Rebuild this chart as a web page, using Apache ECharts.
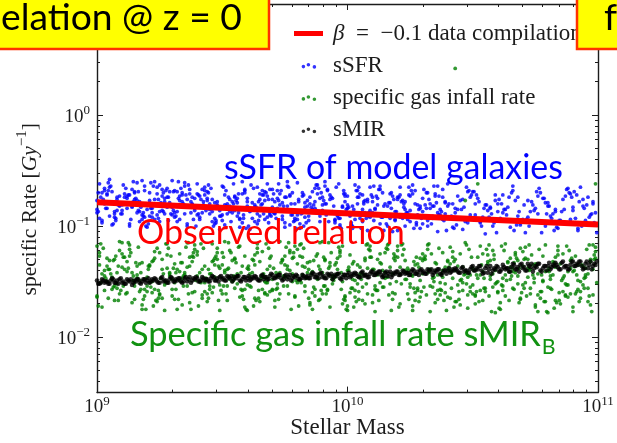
<!DOCTYPE html>
<html>
<head>
<meta charset="utf-8">
<title>Specific rates vs stellar mass</title>
<script src="https://cdn.jsdelivr.net/npm/echarts@6.0.0/dist/echarts.min.js"></script>
<style>
  html, body { margin: 0; padding: 0; background: #ffffff; }
  #chart { width: 617px; height: 443px; }
</style>
</head>
<body>
<div id="chart"></div>
<script>
// Model galaxies at z = 0, each point is [log10 M*, log10 rate (Gyr^-1)]

// specific star formation rate
const sSFRPoints = [
  [9.00,-.77],[9.07,-.87],[9.03,-.68],[9.09,-.82],[9.01,-.62],[9.05,-.91],[9.08,-.74],[9.02,-.95],[9.06,-.79],[9.04,-.71],[9.00,-.85],[9.03,-.66],[9.07,-.89],[9.09,-.81],[9.05,-.58],[9.01,-.93],[9.08,-.76],[9.06,-.99],[9.02,-.70],[9.04,-.84],[9.09,-.73],[9.00,-.88],[9.05,-.65],[9.03,-.80],[9.07,-.92],[9.01,-.78],[9.06,-.69],[9.08,-.86],[9.02,-.97],[9.04,-.72],
  [9.14,-.83],[9.11,-.71],[9.18,-.94],[9.12,-.75],[9.16,-.88],[9.19,-.64],[9.10,-.81],[9.15,-.69],[9.13,-1.00],[9.17,-.78],[9.18,-.90],[9.12,-.73],[9.14,-.67],[9.10,-.86],[9.16,-.61],[9.19,-.92],[9.11,-.80],[9.15,-.76],[9.17,-.96],[9.13,-.72],[9.12,-.84],[9.18,-.59],[9.10,-.89],[9.16,-.77],[9.14,-.82],[9.19,-.68],[9.13,-.98],[9.11,-.74],[9.17,-.87],[9.15,-.70],
  [9.26,-.73],[9.22,-.92],[9.29,-.79],[9.24,-.65],[9.20,-.85],[9.27,-.89],[9.23,-.60],[9.28,-.83],[9.21,-.70],[9.25,-.96],[9.23,-.76],[9.29,-.81],[9.26,-.67],[9.22,-.88],[9.28,-.74],[9.20,-1.01],[9.24,-.71],[9.27,-.78],[9.21,-.91],[9.25,-.63],[9.26,-.86],[9.20,-.80],[9.29,-.69],[9.23,-.94],[9.27,-.75],[9.22,-.84],[9.28,-.66],[9.24,-.90],[9.21,-.77],[9.25,-.87],
  [9.30,-.83],[9.37,-.71],[9.33,-.94],[9.39,-.75],[9.31,-.88],[9.35,-.64],[9.38,-.81],[9.32,-.69],[9.36,-1.00],[9.34,-.78],[9.30,-.90],[9.33,-.73],[9.37,-.67],[9.39,-.86],[9.35,-.61],[9.31,-.92],[9.38,-.80],[9.36,-.76],[9.32,-.96],[9.34,-.72],[9.39,-.84],[9.30,-.59],[9.35,-.89],[9.33,-.77],[9.37,-.82],[9.31,-.68],[9.36,-.98],[9.38,-.74],[9.32,-.87],[9.34,-.70],
  [9.44,-.75],[9.41,-.94],[9.48,-.81],[9.42,-.67],[9.46,-.87],[9.49,-.91],[9.40,-.62],[9.45,-.85],[9.43,-.72],[9.47,-.98],[9.48,-.78],[9.42,-.83],[9.44,-.69],[9.40,-.90],[9.46,-.76],[9.49,-1.03],[9.41,-.73],[9.45,-.80],[9.47,-.93],[9.43,-.65],[9.42,-.88],[9.48,-.82],[9.40,-.71],[9.46,-.96],[9.44,-.77],[9.49,-.86],[9.43,-.68],[9.41,-.92],[9.47,-.79],[9.45,-.89],
  [9.56,-.79],[9.52,-.89],[9.59,-.70],[9.54,-.84],[9.50,-.64],[9.57,-.93],[9.53,-.76],[9.58,-.97],[9.51,-.81],[9.55,-.73],[9.53,-.87],[9.59,-.68],[9.56,-.91],[9.52,-.83],[9.58,-.60],[9.50,-.95],[9.54,-.78],[9.57,-1.01],[9.51,-.72],[9.55,-.86],[9.56,-.75],[9.50,-.90],[9.59,-.67],[9.53,-.82],[9.57,-.94],[9.52,-.80],[9.58,-.71],[9.54,-.88],[9.51,-.99],[9.55,-.74],
  [9.60,-.75],[9.67,-.94],[9.63,-.81],[9.69,-.67],[9.61,-.87],[9.65,-.91],[9.68,-.62],[9.62,-.85],[9.66,-.72],[9.64,-.98],[9.60,-.78],[9.63,-.83],[9.67,-.69],[9.69,-.90],[9.65,-.76],[9.61,-1.03],[9.68,-.73],[9.66,-.80],[9.62,-.93],[9.64,-.65],[9.69,-.88],[9.60,-.82],[9.65,-.71],[9.63,-.96],[9.67,-.77],[9.61,-.86],[9.66,-.68],[9.68,-.92],[9.62,-.79],[9.64,-.89],
  [9.74,-.79],[9.71,-.89],[9.78,-.70],[9.72,-.84],[9.76,-.64],[9.79,-.93],[9.70,-.76],[9.75,-.97],[9.73,-.81],[9.77,-.73],[9.78,-.87],[9.72,-.68],[9.74,-.91],[9.70,-.83],[9.76,-.60],[9.79,-.95],[9.71,-.78],[9.75,-1.01],[9.77,-.72],[9.73,-.86],[9.72,-.75],[9.78,-.90],[9.70,-.67],[9.76,-.82],[9.74,-.94],[9.79,-.80],[9.73,-.71],[9.71,-.88],[9.77,-.99],[9.75,-.74],
  [9.86,-.85],[9.82,-.73],[9.89,-.96],[9.84,-.77],[9.80,-.90],[9.87,-.66],[9.83,-.83],[9.88,-.71],[9.81,-1.02],[9.85,-.80],[9.83,-.92],[9.89,-.75],[9.86,-.69],[9.82,-.88],[9.88,-.63],[9.80,-.94],[9.84,-.82],[9.87,-.78],[9.81,-.98],[9.85,-.74],[9.86,-.86],[9.80,-.61],[9.89,-.91],[9.83,-.79],[9.87,-.84],[9.82,-.70],
  [9.90,-.74],[9.97,-.99],[9.93,-.88],[9.99,-.71],[9.91,-.80],[9.95,-.94],[9.98,-.82],[9.92,-.67],[9.96,-.90],[9.94,-.75],[9.90,-.86],[9.93,-.72],[9.97,-1.01],[9.99,-.78],[9.95,-.95],[9.91,-.60],[9.98,-.83],[9.96,-.91],[9.92,-.68],[9.94,-.87],[9.99,-.73],[9.90,-.81],[9.95,-.97],[9.93,-.76],[9.97,-.93],[9.91,-.64],
  [10.04,-.74],[10.01,-.91],[10.08,-.78],[10.02,-1.02],[10.06,-.72],[10.09,-.86],[10.00,-.81],[10.05,-.93],[10.03,-.63],[10.07,-.88],[10.08,-.76],[10.02,-1.00],[10.04,-.80],[10.00,-.84],[10.06,-.96],[10.09,-.65],[10.01,-.90],[10.05,-.71],[10.07,-.77],[10.03,-.94],[10.02,-.82],[10.08,-1.04],[10.00,-.73],[10.06,-.85],[10.04,-.68],[10.09,-.92],
  [10.16,-.91],[10.12,-.81],[10.19,-.94],[10.14,-.70],[10.10,-.88],[10.17,-.79],[10.13,-.98],[10.18,-.73],[10.11,-.84],[10.15,-.90],[10.13,-.67],[10.19,-.95],[10.16,-.82],[10.12,-.75],[10.18,-1.05],[10.10,-.78],[10.14,-.92],[10.17,-.71],[10.11,-.85],[10.15,-.80],[10.16,-1.00],[10.10,-.74],[10.19,-.87],[10.13,-.64],[10.17,-.93],[10.12,-.89],
  [10.20,-.74],[10.27,-.91],[10.23,-.78],[10.29,-1.02],[10.21,-.72],[10.25,-.86],[10.28,-.81],[10.22,-.93],[10.26,-.63],[10.24,-.88],[10.20,-.76],[10.23,-1.00],[10.27,-.80],[10.29,-.84],[10.25,-.96],[10.21,-.65],[10.28,-.90],[10.26,-.71],[10.22,-.77],[10.24,-.94],[10.29,-.82],[10.20,-1.04],[10.25,-.73],[10.23,-.85],[10.27,-.68],[10.21,-.92],
  [10.34,-.91],[10.31,-.81],[10.38,-.94],[10.32,-.70],[10.36,-.88],[10.39,-.79],[10.30,-.98],[10.35,-.73],[10.33,-.84],[10.37,-.90],[10.38,-.67],[10.32,-.95],[10.34,-.82],[10.30,-.75],[10.36,-1.05],[10.39,-.78],[10.31,-.92],[10.35,-.71],[10.37,-.85],[10.33,-.80],[10.32,-1.00],[10.38,-.74],[10.30,-.87],[10.36,-.64],[10.34,-.93],[10.39,-.89],
  [10.46,-.76],[10.42,-1.01],[10.49,-.90],[10.44,-.73],[10.40,-.82],[10.47,-.96],[10.43,-.84],[10.48,-.69],[10.41,-.92],[10.45,-.77],[10.43,-.88],[10.49,-.74],[10.46,-1.03],[10.42,-.80],[10.48,-.97],[10.40,-.62],[10.44,-.85],[10.47,-.93],
  [10.50,-.93],[10.57,-.83],[10.53,-.96],[10.59,-.72],[10.51,-.90],[10.55,-.81],[10.58,-1.00],[10.52,-.75],[10.56,-.86],[10.54,-.92],[10.50,-.69],[10.53,-.97],[10.57,-.84],[10.59,-.77],[10.55,-1.07],[10.51,-.80],
  [10.64,-.83],[10.61,-.93],[10.68,-.74],[10.62,-.88],[10.66,-.68],[10.69,-.97],[10.60,-.80],[10.65,-1.01],[10.63,-.85],[10.67,-.77],[10.68,-.91],[10.62,-.72],[10.64,-.95],[10.60,-.87],[10.66,-.64],[10.69,-.99],
  [10.76,-.89],[10.72,-.77],[10.79,-1.00],[10.74,-.81],[10.70,-.94],[10.77,-.70],[10.73,-.87],[10.78,-.75],[10.71,-1.06],[10.75,-.84],[10.73,-.96],[10.79,-.79],[10.76,-.73],[10.72,-.92],
  [10.80,-.79],[10.87,-.98],[10.83,-.85],[10.89,-.71],[10.81,-.91],[10.85,-.95],[10.88,-.66],[10.82,-.89],[10.86,-.76],[10.84,-1.02],[10.80,-.82],[10.83,-.87],[10.87,-.73],[10.89,-.94],
  [10.94,-.76],[10.91,-.93],[10.98,-.80],[10.92,-1.04],[10.96,-.74],[10.99,-.88],[10.90,-.83],[10.95,-.95],[10.93,-.65],[10.97,-.90],[10.98,-.78],[10.92,-1.02],[10.94,-.82],[10.90,-.86],
  [9.005,-.70],[9.035,-.84],[9.075,-.93],[9.015,-.74],[9.055,-.64],[9.095,-.89],[9.025,-.79],[9.065,-.98],[9.045,-.68],[9.085,-.81],[9.005,-.87],[9.045,-.61],[9.075,-.95],[9.025,-.76],
  [9.165,-.86],[9.115,-.66],[9.145,-.78],[9.185,-.91],[9.125,-.72],[9.195,-1.00],[9.155,-.75],[9.105,-.63],[9.175,-.83],[9.135,-.94],[9.165,-.69],[9.115,-.80],[9.185,-.88],[9.145,-.60],
  [9.265,-.70],[9.215,-.84],[9.245,-.93],[9.285,-.74],[9.225,-.64],[9.295,-.89],[9.255,-.79],[9.205,-.98],[9.275,-.68],[9.235,-.81],[9.265,-.87],[9.215,-.61],[9.285,-.95],[9.245,-.76],
  [9.305,-.86],[9.335,-.66],[9.375,-.78],[9.315,-.91],[9.355,-.72],[9.395,-1.00],[9.325,-.75],[9.365,-.63],[9.345,-.83],[9.385,-.94],[9.305,-.69],[9.345,-.80],[9.375,-.88],[9.325,-.60],
  [9.405,-.72],[9.435,-.86],[9.475,-.95],[9.415,-.76],[9.455,-.66],[9.495,-.91],[9.425,-.81],[9.465,-1.00],[9.445,-.70],[9.485,-.83],[9.405,-.89],[9.445,-.63],[9.475,-.97],[9.425,-.78],
  [9.565,-.88],[9.515,-.68],[9.545,-.80],[9.585,-.93],[9.525,-.74],[9.595,-1.02],[9.555,-.77],[9.505,-.65],[9.575,-.85],[9.535,-.96],[9.565,-.71],[9.515,-.82],[9.585,-.90],[9.545,-.62],
  [9.665,-.72],[9.615,-.86],[9.645,-.95],[9.685,-.76],[9.625,-.66],[9.695,-.91],[9.655,-.81],[9.605,-1.00],[9.675,-.70],[9.635,-.83],[9.665,-.89],[9.615,-.63],[9.685,-.97],[9.645,-.78],
  [9.705,-.88],[9.735,-.68],[9.775,-.80],[9.715,-.93],[9.755,-.74],[9.795,-1.02],[9.725,-.77],[9.765,-.65],[9.745,-.85],[9.785,-.96],[9.705,-.71],[9.745,-.82],[9.775,-.90],[9.725,-.62],
  [9.805,-.78],[9.835,-.97],[9.875,-.63],[9.815,-.89],[9.855,-.83],[9.895,-.70],[9.825,-1.00],[9.865,-.81],[9.845,-.91],[9.885,-.66],[9.805,-.76],[9.845,-.95],[9.875,-.86],[9.825,-.72],
  [9.965,-.62],[9.915,-.90],[9.945,-.82],[9.985,-.71],[9.925,-.96],[9.995,-.85],[9.955,-.65],[9.905,-.77],[9.975,-1.02],[9.935,-.74],[9.965,-.93],[9.915,-.80],[9.985,-.68],[9.945,-.88],
  [10.065,-.80],[10.015,-.99],[10.045,-.65],[10.085,-.91],[10.025,-.85],[10.095,-.72],[10.055,-1.02],[10.005,-.83],[10.075,-.93],[10.035,-.68],[10.065,-.78],[10.015,-.97],[10.085,-.88],[10.045,-.74],
  [10.105,-.64],[10.135,-.92],[10.175,-.84],[10.115,-.73],[10.155,-.98],[10.195,-.87],[10.125,-.67],[10.165,-.79],[10.145,-1.04],[10.185,-.76],[10.105,-.95],[10.145,-.82],[10.175,-.70],[10.125,-.90],
  [10.205,-.74],[10.235,-.88],[10.275,-.97],[10.215,-.78],[10.255,-.68],[10.295,-.93],[10.225,-.83],[10.265,-1.02],[10.245,-.72],[10.285,-.85],[10.205,-.91],[10.245,-.65],[10.275,-.99],[10.225,-.80],
  [10.365,-.90],[10.315,-.70],[10.345,-.82],[10.385,-.95],[10.325,-.76],[10.395,-1.04],[10.355,-.79],[10.305,-.67],[10.375,-.87],[10.335,-.98],[10.365,-.73],[10.315,-.84],[10.385,-.92],[10.345,-.64],
  [10.405,-.80],[10.435,-.99],[10.475,-.65],[10.415,-.91],[10.455,-.85],[10.495,-.72],[10.425,-1.02],[10.465,-.83],[10.445,-.93],[10.485,-.68],
  [10.565,-.92],[10.515,-.72],[10.545,-.84],[10.585,-.97],[10.525,-.78],[10.595,-1.06],[10.555,-.81],[10.505,-.69],[10.575,-.89],[10.535,-1.00],
  [10.605,-.76],[10.635,-.90],[10.675,-.99],[10.615,-.80],[10.655,-.70],[10.695,-.95],[10.625,-.85],[10.665,-1.04],[10.645,-.74],[10.685,-.87],
  [10.765,-.66],[10.715,-.94],[10.745,-.86],[10.785,-.75],[10.725,-1.00],[10.795,-.89],[10.755,-.69],[10.705,-.81],[10.775,-1.06],[10.735,-.78],
  [10.805,-.82],[10.835,-1.01],[10.875,-.67],[10.815,-.93],[10.855,-.87],[10.895,-.74],[10.825,-1.04],[10.865,-.85],[10.845,-.95],[10.885,-.70],
  [10.965,-.92],[10.915,-.72],[10.945,-.84],[10.985,-.97],[10.925,-.78],[10.995,-1.06],[10.955,-.81],[10.905,-.69],[10.975,-.89],[10.935,-1.00]
];

// specific gas infall rate
const infallPoints = [
  [9.03,-1.40],[9.08,-1.56],[9.01,-1.27],[9.06,-1.48],[9.00,-1.18],[9.09,-1.61],[9.04,-1.36],[9.07,-1.67],[9.02,-1.43],[9.05,-1.31],[9.08,-1.52],[9.01,-1.24],[9.03,-1.58],[9.06,-1.46],[9.09,-1.14],[9.00,-1.64],[9.05,-1.39],[9.02,-1.73],[9.07,-1.30],[9.04,-1.50],[9.01,-1.35],[9.06,-1.57],[9.09,-1.22],[9.03,-1.45],[9.00,-1.63],[9.08,-1.42],[9.04,-1.29],[9.07,-1.54],
  [9.17,-1.49],[9.12,-1.32],[9.15,-1.66],[9.10,-1.37],[9.19,-1.57],[9.13,-1.21],[9.16,-1.47],[9.11,-1.28],[9.18,-1.75],[9.14,-1.42],[9.12,-1.60],[9.17,-1.34],[9.10,-1.25],[9.15,-1.54],[9.13,-1.17],[9.19,-1.63],[9.16,-1.44],[9.11,-1.39],[9.14,-1.69],[9.18,-1.33],[9.15,-1.51],[9.10,-1.15],[9.17,-1.59],[9.12,-1.41],[9.19,-1.48],[9.13,-1.27],[9.18,-1.71],[9.16,-1.36],
  [9.21,-1.35],[9.25,-1.62],[9.29,-1.43],[9.23,-1.23],[9.27,-1.53],[9.20,-1.59],[9.28,-1.16],[9.22,-1.50],[9.26,-1.30],[9.24,-1.68],[9.26,-1.39],[9.20,-1.46],[9.28,-1.26],[9.23,-1.57],[9.21,-1.36],[9.27,-1.76],[9.22,-1.32],[9.29,-1.42],[9.25,-1.61],[9.24,-1.20],[9.20,-1.54],[9.29,-1.45],[9.23,-1.29],[9.26,-1.65],[9.28,-1.38],[9.21,-1.51],[9.25,-1.24],[9.22,-1.60],
  [9.33,-1.49],[9.38,-1.32],[9.31,-1.66],[9.36,-1.37],[9.30,-1.57],[9.39,-1.21],[9.34,-1.47],[9.37,-1.28],[9.32,-1.75],[9.35,-1.42],[9.38,-1.60],[9.31,-1.34],[9.33,-1.25],[9.36,-1.54],[9.39,-1.17],[9.30,-1.63],[9.35,-1.44],[9.32,-1.39],[9.37,-1.69],[9.34,-1.33],[9.31,-1.51],[9.36,-1.15],[9.39,-1.59],[9.33,-1.41],[9.30,-1.48],[9.38,-1.27],[9.34,-1.71],[9.37,-1.36],
  [9.47,-1.35],[9.42,-1.62],[9.45,-1.43],[9.40,-1.23],[9.49,-1.53],[9.43,-1.59],[9.46,-1.16],[9.41,-1.50],[9.48,-1.30],[9.44,-1.68],[9.42,-1.39],[9.47,-1.46],[9.40,-1.26],[9.45,-1.57],[9.43,-1.36],[9.49,-1.76],[9.46,-1.32],[9.41,-1.42],[9.44,-1.61],[9.48,-1.20],[9.45,-1.54],[9.40,-1.45],[9.47,-1.29],[9.42,-1.65],[9.49,-1.38],[9.43,-1.51],[9.48,-1.24],[9.46,-1.60],
  [9.51,-1.40],[9.55,-1.56],[9.59,-1.27],[9.53,-1.48],[9.57,-1.18],[9.50,-1.61],[9.58,-1.36],[9.52,-1.67],[9.56,-1.43],[9.54,-1.31],[9.56,-1.52],[9.50,-1.24],[9.58,-1.58],[9.53,-1.46],[9.51,-1.14],[9.57,-1.64],[9.52,-1.39],[9.59,-1.73],[9.55,-1.30],[9.54,-1.50],[9.50,-1.35],[9.59,-1.57],[9.53,-1.22],[9.56,-1.45],[9.58,-1.63],[9.51,-1.42],[9.55,-1.29],[9.52,-1.54],
  [9.63,-1.35],[9.68,-1.62],[9.61,-1.43],[9.66,-1.23],[9.60,-1.53],[9.69,-1.59],[9.64,-1.16],[9.67,-1.50],[9.62,-1.30],[9.65,-1.68],[9.68,-1.39],[9.61,-1.46],[9.63,-1.26],[9.66,-1.57],[9.69,-1.36],[9.60,-1.76],[9.65,-1.32],[9.62,-1.42],[9.67,-1.61],[9.64,-1.20],[9.61,-1.54],[9.66,-1.45],[9.69,-1.29],[9.63,-1.65],[9.60,-1.38],[9.68,-1.51],[9.64,-1.24],[9.67,-1.60],
  [9.77,-1.40],[9.72,-1.56],[9.75,-1.27],[9.70,-1.48],[9.79,-1.18],[9.73,-1.61],[9.76,-1.36],[9.71,-1.67],[9.78,-1.43],[9.74,-1.31],[9.72,-1.52],[9.77,-1.24],[9.70,-1.58],[9.75,-1.46],[9.73,-1.14],[9.79,-1.64],[9.76,-1.39],[9.71,-1.73],[9.74,-1.30],[9.78,-1.50],[9.75,-1.35],[9.70,-1.57],[9.77,-1.22],[9.72,-1.45],[9.79,-1.63],[9.73,-1.42],[9.78,-1.29],[9.76,-1.54],
  [9.81,-1.49],[9.85,-1.32],[9.89,-1.66],[9.83,-1.37],[9.87,-1.57],[9.80,-1.21],[9.88,-1.47],[9.82,-1.28],[9.86,-1.75],[9.84,-1.42],[9.86,-1.60],[9.80,-1.34],[9.88,-1.25],[9.83,-1.54],[9.81,-1.17],[9.87,-1.63],[9.82,-1.44],[9.89,-1.39],[9.85,-1.69],[9.84,-1.33],[9.80,-1.51],[9.89,-1.15],[9.83,-1.59],[9.86,-1.41],[9.88,-1.48],[9.81,-1.27],[9.85,-1.71],[9.82,-1.36],
  [9.93,-1.33],[9.98,-1.70],[9.91,-1.54],[9.96,-1.29],[9.90,-1.42],[9.99,-1.63],[9.94,-1.45],[9.97,-1.22],[9.92,-1.57],[9.95,-1.35],[9.98,-1.50],[9.91,-1.30],[9.93,-1.73],[9.96,-1.39],[9.99,-1.64],[9.90,-1.14],[9.95,-1.46],[9.92,-1.58],[9.97,-1.24],[9.94,-1.52],[9.91,-1.31],[9.96,-1.43],[9.99,-1.67],[9.93,-1.36],[9.90,-1.61],[9.98,-1.18],[9.94,-1.48],[9.97,-1.27],
  [10.07,-1.31],[10.02,-1.56],[10.05,-1.37],[10.00,-1.72],[10.09,-1.28],[10.03,-1.49],[10.06,-1.42],[10.01,-1.60],[10.08,-1.16],[10.04,-1.52],[10.02,-1.34],[10.07,-1.70],[10.00,-1.40],[10.05,-1.45],[10.03,-1.64],[10.09,-1.18],[10.06,-1.55],[10.01,-1.26],[10.04,-1.35],[10.08,-1.61],[10.05,-1.43],[10.00,-1.76],[10.07,-1.29],[10.02,-1.48],[10.09,-1.22],[10.03,-1.58],[10.08,-1.38],[10.06,-1.67],
  [10.11,-1.57],[10.15,-1.42],[10.19,-1.61],[10.13,-1.25],[10.17,-1.52],[10.10,-1.39],[10.18,-1.66],[10.12,-1.30],[10.16,-1.46],[10.14,-1.55],[10.16,-1.21],[10.10,-1.62],[10.18,-1.43],[10.13,-1.33],[10.11,-1.77],[10.17,-1.37],[10.12,-1.58],[10.19,-1.27],[10.15,-1.47],[10.14,-1.40],[10.10,-1.69],[10.19,-1.31],[10.13,-1.51],[10.16,-1.17],[10.18,-1.60],[10.11,-1.54],[10.15,-1.24],[10.12,-1.44],
  [10.23,-1.31],[10.28,-1.56],[10.21,-1.37],[10.26,-1.72],[10.20,-1.28],[10.29,-1.49],[10.24,-1.42],[10.27,-1.60],[10.22,-1.16],[10.25,-1.52],[10.28,-1.34],[10.21,-1.70],[10.23,-1.40],[10.26,-1.45],[10.29,-1.64],[10.20,-1.18],[10.25,-1.55],[10.22,-1.26],[10.27,-1.35],[10.24,-1.61],[10.21,-1.43],[10.26,-1.76],[10.29,-1.29],[10.23,-1.48],[10.20,-1.22],[10.28,-1.58],[10.24,-1.38],[10.27,-1.67],
  [10.37,-1.57],[10.32,-1.42],[10.35,-1.61],[10.30,-1.25],[10.39,-1.52],[10.33,-1.39],[10.36,-1.66],[10.31,-1.30],[10.38,-1.46],[10.34,-1.55],[10.32,-1.21],[10.37,-1.62],[10.30,-1.43],[10.35,-1.33],[10.33,-1.77],[10.39,-1.37],[10.36,-1.58],[10.31,-1.27],[10.34,-1.47],[10.38,-1.40],[10.35,-1.69],[10.30,-1.31],[10.37,-1.51],[10.32,-1.17],[10.39,-1.60],[10.33,-1.54],[10.38,-1.24],[10.36,-1.44],
  [10.41,-1.34],[10.45,-1.71],[10.49,-1.55],[10.43,-1.30],[10.47,-1.43],[10.40,-1.64],[10.48,-1.46],[10.42,-1.23],[10.46,-1.58],[10.44,-1.36],[10.46,-1.51],[10.40,-1.31],[10.48,-1.74],[10.43,-1.40],[10.41,-1.65],[10.47,-1.15],[10.42,-1.47],[10.49,-1.59],[10.45,-1.25],[10.44,-1.53],[10.40,-1.32],[10.49,-1.44],[10.43,-1.68],[10.46,-1.37],[10.48,-1.62],[10.41,-1.19],[10.45,-1.49],[10.42,-1.28],
  [10.53,-1.58],[10.58,-1.43],[10.51,-1.62],[10.56,-1.26],[10.50,-1.53],[10.59,-1.40],[10.54,-1.67],[10.57,-1.31],[10.52,-1.47],[10.55,-1.56],[10.58,-1.22],[10.51,-1.63],[10.53,-1.44],[10.56,-1.34],[10.59,-1.78],[10.50,-1.38],[10.55,-1.59],[10.52,-1.28],[10.57,-1.48],[10.54,-1.41],[10.51,-1.70],[10.56,-1.32],[10.59,-1.52],[10.53,-1.18],[10.50,-1.61],[10.58,-1.55],[10.54,-1.25],[10.57,-1.45],
  [10.67,-1.42],[10.62,-1.58],[10.65,-1.29],[10.60,-1.50],[10.69,-1.20],[10.63,-1.63],[10.66,-1.38],[10.61,-1.69],[10.68,-1.45],[10.64,-1.33],[10.62,-1.54],[10.67,-1.26],[10.60,-1.60],[10.65,-1.48],[10.63,-1.16],[10.69,-1.66],[10.66,-1.41],[10.61,-1.75],[10.64,-1.32],[10.68,-1.52],[10.65,-1.37],[10.60,-1.59],[10.67,-1.24],[10.62,-1.47],[10.69,-1.65],[10.63,-1.44],[10.68,-1.31],[10.66,-1.56],
  [10.71,-1.51],[10.75,-1.34],[10.79,-1.68],[10.73,-1.39],[10.77,-1.59],[10.70,-1.23],[10.78,-1.49],[10.72,-1.30],[10.76,-1.77],[10.74,-1.44],[10.76,-1.62],[10.70,-1.36],[10.78,-1.27],[10.73,-1.56],[10.71,-1.19],[10.77,-1.65],[10.72,-1.46],[10.79,-1.41],[10.75,-1.71],[10.74,-1.35],[10.70,-1.53],[10.79,-1.17],[10.73,-1.61],[10.76,-1.43],[10.78,-1.50],[10.71,-1.29],[10.75,-1.73],[10.72,-1.38],
  [10.83,-1.37],[10.88,-1.64],[10.81,-1.45],[10.86,-1.25],[10.80,-1.55],[10.89,-1.61],[10.84,-1.18],[10.87,-1.52],[10.82,-1.32],[10.85,-1.70],[10.88,-1.41],[10.81,-1.48],[10.83,-1.28],[10.86,-1.59],[10.89,-1.38],[10.80,-1.78],[10.85,-1.34],[10.82,-1.44],[10.87,-1.63],[10.84,-1.22],[10.81,-1.56],[10.86,-1.47],[10.89,-1.31],[10.83,-1.67],[10.80,-1.40],[10.88,-1.53],[10.84,-1.26],[10.87,-1.62],
  [10.97,-1.32],[10.92,-1.57],[10.95,-1.38],[10.90,-1.73],[10.99,-1.29],[10.93,-1.50],[10.96,-1.43],[10.91,-1.61],[10.98,-1.17],[10.94,-1.53],[10.92,-1.35],[10.97,-1.71],[10.90,-1.41],[10.95,-1.46],[10.93,-1.65],[10.99,-1.19],[10.96,-1.56],[10.91,-1.27],[10.94,-1.36],[10.98,-1.62],[10.95,-1.44],[10.90,-1.77],[10.97,-1.30],[10.92,-1.49],[10.99,-1.23],[10.93,-1.59],[10.98,-1.39],[10.96,-1.68],
  [9.065,-1.31],[9.015,-1.51],[9.045,-1.65],[9.085,-1.36],[9.025,-1.20],[9.095,-1.58],[9.055,-1.43],[9.005,-1.72],[9.075,-1.27],[9.035,-1.47],[9.065,-1.55],[9.015,-1.16],[9.085,-1.67],[9.045,-1.39],
  [9.105,-1.54],[9.135,-1.24],[9.175,-1.42],[9.115,-1.61],[9.155,-1.33],[9.195,-1.75],[9.125,-1.38],[9.165,-1.19],[9.145,-1.49],[9.185,-1.66],[9.105,-1.28],[9.145,-1.45],[9.175,-1.57],[9.125,-1.15],
  [9.205,-1.39],[9.235,-1.67],[9.275,-1.16],[9.215,-1.55],[9.255,-1.47],[9.295,-1.27],[9.225,-1.72],[9.265,-1.43],[9.245,-1.58],[9.285,-1.20],[9.205,-1.36],[9.245,-1.65],[9.275,-1.51],[9.225,-1.31],
  [9.365,-1.15],[9.315,-1.57],[9.345,-1.45],[9.385,-1.28],[9.325,-1.66],[9.395,-1.49],[9.355,-1.19],[9.305,-1.38],[9.375,-1.75],[9.335,-1.33],[9.365,-1.61],[9.315,-1.42],[9.385,-1.24],[9.345,-1.54],
  [9.465,-1.31],[9.415,-1.51],[9.445,-1.65],[9.485,-1.36],[9.425,-1.20],[9.495,-1.58],[9.455,-1.43],[9.405,-1.72],[9.475,-1.27],[9.435,-1.47],[9.465,-1.55],[9.415,-1.16],[9.485,-1.67],[9.445,-1.39],
  [9.505,-1.54],[9.535,-1.24],[9.575,-1.42],[9.515,-1.61],[9.555,-1.33],[9.595,-1.75],[9.525,-1.38],[9.565,-1.19],[9.545,-1.49],[9.585,-1.66],[9.505,-1.28],[9.545,-1.45],[9.575,-1.57],[9.525,-1.15],
  [9.605,-1.39],[9.635,-1.67],[9.675,-1.16],[9.615,-1.55],[9.655,-1.47],[9.695,-1.27],[9.625,-1.72],[9.665,-1.43],[9.645,-1.58],[9.685,-1.20],[9.605,-1.36],[9.645,-1.65],[9.675,-1.51],[9.625,-1.31],
  [9.765,-1.15],[9.715,-1.57],[9.745,-1.45],[9.785,-1.28],[9.725,-1.66],[9.795,-1.49],[9.755,-1.19],[9.705,-1.38],[9.775,-1.75],[9.735,-1.33],[9.765,-1.61],[9.715,-1.42],[9.785,-1.24],[9.745,-1.54],
  [9.865,-1.31],[9.815,-1.51],[9.845,-1.65],[9.885,-1.36],[9.825,-1.20],[9.895,-1.58],[9.855,-1.43],[9.805,-1.72],[9.875,-1.27],[9.835,-1.47],[9.865,-1.55],[9.815,-1.16],[9.885,-1.67],[9.845,-1.39],
  [9.905,-1.54],[9.935,-1.24],[9.975,-1.42],[9.915,-1.61],[9.955,-1.33],[9.995,-1.75],[9.925,-1.38],[9.965,-1.19],[9.945,-1.49],[9.985,-1.66],[9.905,-1.28],[9.945,-1.45],[9.975,-1.57],[9.925,-1.15],
  [10.005,-1.40],[10.035,-1.68],[10.075,-1.17],[10.015,-1.56],[10.055,-1.48],[10.095,-1.28],[10.025,-1.73],[10.065,-1.44],[10.045,-1.59],[10.085,-1.21],[10.005,-1.37],[10.045,-1.66],[10.075,-1.52],[10.025,-1.32],
  [10.165,-1.16],[10.115,-1.58],[10.145,-1.46],[10.185,-1.29],[10.125,-1.67],[10.195,-1.50],[10.155,-1.20],[10.105,-1.39],[10.175,-1.76],[10.135,-1.34],[10.165,-1.62],[10.115,-1.43],[10.185,-1.25],[10.145,-1.55],
  [10.265,-1.32],[10.215,-1.52],[10.245,-1.66],[10.285,-1.37],[10.225,-1.21],[10.295,-1.59],[10.255,-1.44],[10.205,-1.73],[10.275,-1.28],[10.235,-1.48],[10.265,-1.56],[10.215,-1.17],[10.285,-1.68],[10.245,-1.40],
  [10.305,-1.55],[10.335,-1.25],[10.375,-1.43],[10.315,-1.62],[10.355,-1.34],[10.395,-1.76],[10.325,-1.39],[10.365,-1.20],[10.345,-1.50],[10.385,-1.67],[10.305,-1.29],[10.345,-1.46],[10.375,-1.58],[10.325,-1.16],
  [10.405,-1.40],[10.435,-1.68],[10.475,-1.17],[10.415,-1.56],[10.455,-1.48],[10.495,-1.28],[10.425,-1.73],[10.465,-1.44],[10.445,-1.59],[10.485,-1.21],[10.405,-1.37],[10.445,-1.66],[10.475,-1.52],[10.425,-1.32],
  [10.565,-1.17],[10.515,-1.59],[10.545,-1.47],[10.585,-1.30],[10.525,-1.68],[10.595,-1.51],[10.555,-1.21],[10.505,-1.40],[10.575,-1.77],[10.535,-1.35],[10.565,-1.63],[10.515,-1.44],[10.585,-1.26],[10.545,-1.56],
  [10.665,-1.33],[10.615,-1.53],[10.645,-1.67],[10.685,-1.38],[10.625,-1.22],[10.695,-1.60],[10.655,-1.45],[10.605,-1.74],[10.675,-1.29],[10.635,-1.49],[10.665,-1.57],[10.615,-1.18],[10.685,-1.69],[10.645,-1.41],
  [10.705,-1.56],[10.735,-1.26],[10.775,-1.44],[10.715,-1.63],[10.755,-1.35],[10.795,-1.77],[10.725,-1.40],[10.765,-1.21],[10.745,-1.51],[10.785,-1.68],[10.705,-1.30],[10.745,-1.47],[10.775,-1.59],[10.725,-1.17],
  [10.805,-1.41],[10.835,-1.69],[10.875,-1.18],[10.815,-1.57],[10.855,-1.49],[10.895,-1.29],[10.825,-1.74],[10.865,-1.45],[10.845,-1.60],[10.885,-1.22],[10.805,-1.38],[10.845,-1.67],[10.875,-1.53],[10.825,-1.33],
  [10.965,-1.17],[10.915,-1.59],[10.945,-1.47],[10.985,-1.30],[10.925,-1.68],[10.995,-1.51],[10.955,-1.21],[10.905,-1.40],[10.975,-1.77],[10.935,-1.35],[10.965,-1.63],[10.915,-1.44],[10.985,-1.26],[10.945,-1.56],
  [10.43,.42],[10.52,-.62],[10.47,-.77],[10.99,-.62]
];

// specific mass inflow rate
const sMIRPoints = [
  [9.00,-1.49],[9.005,-1.52],[9.01,-1.52],[9.015,-1.51],[9.02,-1.48],[9.025,-1.49],[9.03,-1.51],[9.035,-1.50],[9.04,-1.50],[9.045,-1.52],[9.05,-1.52],[9.055,-1.49],[9.06,-1.47],[9.065,-1.48],[9.07,-1.51],[9.075,-1.51],[9.08,-1.49],[9.085,-1.52],[9.09,-1.48],[9.095,-1.47],
  [9.10,-1.51],[9.105,-1.50],[9.11,-1.52],[9.115,-1.52],[9.12,-1.48],[9.125,-1.49],[9.13,-1.50],[9.135,-1.48],[9.14,-1.53],[9.145,-1.51],[9.15,-1.49],[9.155,-1.50],[9.16,-1.48],[9.165,-1.48],[9.17,-1.51],[9.175,-1.52],[9.18,-1.50],[9.185,-1.48],[9.19,-1.48],[9.195,-1.51],
  [9.20,-1.49],[9.205,-1.47],[9.21,-1.51],[9.215,-1.50],[9.22,-1.48],[9.225,-1.49],[9.23,-1.47],[9.235,-1.48],[9.24,-1.50],[9.245,-1.51],[9.25,-1.51],[9.255,-1.47],[9.26,-1.46],[9.265,-1.50],[9.27,-1.49],[9.275,-1.49],[9.28,-1.51],[9.285,-1.51],[9.29,-1.48],[9.295,-1.46],
  [9.30,-1.47],[9.305,-1.50],[9.31,-1.50],[9.315,-1.48],[9.32,-1.49],[9.325,-1.47],[9.33,-1.47],[9.335,-1.50],[9.34,-1.51],[9.345,-1.50],[9.35,-1.47],[9.355,-1.46],[9.36,-1.50],[9.365,-1.48],[9.37,-1.46],[9.375,-1.51],[9.38,-1.49],[9.385,-1.47],[9.39,-1.48],[9.395,-1.46],
  [9.40,-1.47],[9.405,-1.50],[9.41,-1.50],[9.415,-1.49],[9.42,-1.46],[9.425,-1.47],[9.43,-1.49],[9.435,-1.48],[9.44,-1.48],[9.445,-1.50],[9.45,-1.50],[9.455,-1.47],[9.46,-1.45],[9.465,-1.46],[9.47,-1.49],[9.475,-1.49],[9.48,-1.47],[9.485,-1.50],[9.49,-1.46],[9.495,-1.45],
  [9.50,-1.48],[9.505,-1.47],[9.51,-1.49],[9.515,-1.49],[9.52,-1.45],[9.525,-1.46],[9.53,-1.47],[9.535,-1.45],[9.54,-1.50],[9.545,-1.48],[9.55,-1.46],[9.555,-1.47],[9.56,-1.45],[9.565,-1.45],[9.57,-1.49],[9.575,-1.50],[9.58,-1.48],[9.585,-1.46],[9.59,-1.46],[9.595,-1.49],
  [9.60,-1.47],[9.605,-1.45],[9.61,-1.49],[9.615,-1.48],[9.62,-1.46],[9.625,-1.47],[9.63,-1.45],[9.635,-1.46],[9.64,-1.48],[9.645,-1.49],[9.65,-1.49],[9.655,-1.45],[9.66,-1.44],[9.665,-1.48],[9.67,-1.46],[9.675,-1.46],[9.68,-1.48],[9.685,-1.48],[9.69,-1.45],[9.695,-1.43],
  [9.70,-1.44],[9.705,-1.47],[9.71,-1.47],[9.715,-1.45],[9.72,-1.46],[9.725,-1.44],[9.73,-1.44],[9.735,-1.47],[9.74,-1.49],[9.745,-1.48],[9.75,-1.45],[9.755,-1.44],[9.76,-1.48],[9.765,-1.46],[9.77,-1.44],[9.775,-1.49],[9.78,-1.47],[9.785,-1.45],[9.79,-1.46],[9.795,-1.44],
  [9.80,-1.45],[9.805,-1.48],[9.81,-1.48],[9.815,-1.47],[9.82,-1.44],[9.825,-1.45],[9.83,-1.47],[9.835,-1.46],[9.84,-1.45],[9.845,-1.47],[9.85,-1.47],[9.855,-1.44],[9.86,-1.42],[9.865,-1.43],[9.87,-1.46],[9.875,-1.46],[9.88,-1.44],[9.885,-1.47],[9.89,-1.43],[9.895,-1.42],
  [9.90,-1.46],[9.905,-1.45],[9.91,-1.47],[9.915,-1.47],[9.92,-1.43],[9.925,-1.44],[9.93,-1.45],[9.935,-1.43],[9.94,-1.48],[9.945,-1.46],[9.95,-1.44],[9.955,-1.45],[9.96,-1.43],[9.965,-1.43],[9.97,-1.47],[9.975,-1.48],[9.98,-1.46],[9.985,-1.44],[9.99,-1.44],[9.995,-1.47],
  [10.00,-1.44],[10.005,-1.42],[10.01,-1.46],[10.015,-1.45],[10.02,-1.43],[10.025,-1.44],[10.03,-1.42],[10.035,-1.43],[10.04,-1.45],[10.045,-1.46],[10.05,-1.46],[10.055,-1.42],[10.06,-1.41],[10.065,-1.45],[10.07,-1.44],[10.075,-1.44],[10.08,-1.46],[10.085,-1.46],[10.09,-1.43],[10.095,-1.41],
  [10.10,-1.41],[10.105,-1.44],[10.11,-1.44],[10.115,-1.42],[10.12,-1.43],[10.125,-1.41],[10.13,-1.41],[10.135,-1.44],[10.14,-1.46],[10.145,-1.45],[10.15,-1.42],[10.155,-1.41],[10.16,-1.45],[10.165,-1.43],[10.17,-1.41],[10.175,-1.46],[10.18,-1.44],[10.185,-1.42],[10.19,-1.43],[10.195,-1.41],
  [10.20,-1.41],[10.205,-1.44],[10.21,-1.44],[10.215,-1.43],[10.22,-1.40],[10.225,-1.41],[10.23,-1.43],[10.235,-1.42],[10.24,-1.42],[10.245,-1.44],[10.25,-1.44],[10.255,-1.41],[10.26,-1.39],[10.265,-1.40],[10.27,-1.43],[10.275,-1.43],[10.28,-1.41],[10.285,-1.44],[10.29,-1.40],[10.295,-1.39],
  [10.30,-1.42],[10.305,-1.41],[10.31,-1.43],[10.315,-1.43],[10.32,-1.39],[10.325,-1.40],[10.33,-1.41],[10.335,-1.39],[10.34,-1.44],[10.345,-1.42],[10.35,-1.40],[10.355,-1.41],[10.36,-1.39],[10.365,-1.39],[10.37,-1.43],[10.375,-1.44],[10.38,-1.42],[10.385,-1.40],[10.39,-1.40],[10.395,-1.43],
  [10.40,-1.40],[10.405,-1.38],[10.41,-1.42],[10.415,-1.41],[10.42,-1.39],[10.425,-1.40],[10.43,-1.38],[10.435,-1.39],[10.44,-1.41],[10.445,-1.42],[10.45,-1.42],[10.455,-1.38],[10.46,-1.37],[10.465,-1.41],[10.47,-1.40],[10.475,-1.40],[10.48,-1.42],[10.485,-1.42],[10.49,-1.39],[10.495,-1.37],
  [10.50,-1.36],[10.505,-1.40],[10.51,-1.40],[10.515,-1.38],[10.52,-1.39],[10.525,-1.36],[10.53,-1.36],[10.535,-1.40],[10.54,-1.43],[10.545,-1.42],[10.55,-1.38],[10.555,-1.36],[10.56,-1.42],[10.565,-1.39],[10.57,-1.36],[10.575,-1.43],[10.58,-1.40],[10.585,-1.38],[10.59,-1.39],[10.595,-1.36],
  [10.60,-1.37],[10.605,-1.41],[10.61,-1.41],[10.615,-1.39],[10.62,-1.35],[10.625,-1.37],[10.63,-1.39],[10.635,-1.38],[10.64,-1.38],[10.645,-1.41],[10.65,-1.41],[10.655,-1.37],[10.66,-1.34],[10.665,-1.35],[10.67,-1.39],[10.675,-1.39],[10.68,-1.37],[10.685,-1.41],[10.69,-1.35],[10.695,-1.34],
  [10.70,-1.38],[10.705,-1.37],[10.71,-1.40],[10.715,-1.40],[10.72,-1.34],[10.725,-1.36],[10.73,-1.37],[10.735,-1.34],[10.74,-1.41],[10.745,-1.38],[10.75,-1.36],[10.755,-1.37],[10.76,-1.34],[10.765,-1.34],[10.77,-1.40],[10.775,-1.41],[10.78,-1.38],[10.785,-1.36],[10.79,-1.36],[10.795,-1.40],
  [10.80,-1.36],[10.805,-1.33],[10.81,-1.39],[10.815,-1.37],[10.82,-1.35],[10.825,-1.36],[10.83,-1.33],[10.835,-1.35],[10.84,-1.37],[10.845,-1.39],[10.85,-1.39],[10.855,-1.33],[10.86,-1.32],[10.865,-1.37],[10.87,-1.36],[10.875,-1.36],[10.88,-1.39],[10.885,-1.39],[10.89,-1.35],[10.895,-1.32],
  [10.90,-1.32],[10.905,-1.36],[10.91,-1.36],[10.915,-1.34],[10.92,-1.35],[10.925,-1.32],[10.93,-1.32],[10.935,-1.36],[10.94,-1.39],[10.945,-1.38],[10.95,-1.34],[10.955,-1.32],[10.96,-1.38],[10.965,-1.35],[10.97,-1.32],[10.975,-1.39],[10.98,-1.36],[10.985,-1.34],[10.99,-1.35],[10.995,-1.32]
];

// observed relation sSFR ∝ M*^β with β = −0.1 (end points, linear units)
const relationMass = [1e9, 1e11];
const relationRate = [0.164, 0.1035];

// axis ticks
const xMajorTicks = [1e9, 1e10, 1e11];
const xMinorTicks = [2e9, 3e9, 4e9, 5e9, 6e9, 7e9, 8e9, 9e9, 2e10, 3e10, 4e10, 5e10, 6e10, 7e10, 8e10, 9e10];
const yMajorTicks = [1e-2, 1e-1, 1, 10];
const yLabelTicks = [1e-2, 1e-1, 1];
const yMinorTicks = [4e-3, 5e-3, 6e-3, 7e-3, 8e-3, 9e-3, 2e-2, 3e-2, 4e-2, 5e-2, 6e-2, 7e-2, 8e-2, 9e-2,
  0.2, 0.3, 0.4, 0.5, 0.6, 0.7, 0.8, 0.9, 2, 3, 4, 5, 6, 7, 8, 9];

const RELATION_NAME = 'β\u2002=\u2002\u22120.1 data compilation';
const INK = '#1c1c1c';
const SERIF = 'Liberation Serif';
const SANS = 'Lato';

const toLinear = pts => pts.map(p => [Math.pow(10, p[0]), Math.pow(10, p[1])]);

function powerLabel(v) {
  const e = Math.round(Math.log10(v));
  return '{b|10}{e|' + (e < 0 ? '\u2212' + (-e) : e) + '}';
}
const powerRich = {
  b: { fontFamily: SERIF, fontSize: 19, lineHeight: 22, color: INK, verticalAlign: 'bottom' },
  e: { fontFamily: SERIF, fontSize: 13, lineHeight: 11, color: INK, verticalAlign: 'top' }
};

function axisPart(kind, position, ticks, tickLen, withLine) {
  const isX = kind === 'x';
  return {
    type: 'log', logBase: 10,
    min: isX ? 1e9 : Math.pow(10, -2.5),
    max: isX ? 1e11 : 10,
    position: position,
    axisLine: { show: withLine, onZero: false, lineStyle: { color: INK, width: 1.4 } },
    axisTick: { show: true, inside: true, length: tickLen, customValues: ticks, lineStyle: { color: INK, width: 1 } },
    axisLabel: { show: false },
    splitLine: { show: false },
    minorTick: { show: false },
    minorSplitLine: { show: false },
    axisPointer: { show: false },
    silent: true
  };
}

const xMain = axisPart('x', 'bottom', xMajorTicks, 6, true);
xMain.axisLabel = { show: true, customValues: xMajorTicks, margin: 2, formatter: powerLabel, rich: powerRich };
xMain.name = 'Stellar Mass';
xMain.nameLocation = 'middle';
xMain.nameGap = 24;
xMain.nameMoveOverlap = false;
xMain.nameTextStyle = { fontFamily: SERIF, fontSize: 23, color: INK };

const yMain = axisPart('y', 'left', yMajorTicks, 6, true);
yMain.axisLabel = { show: true, customValues: yLabelTicks, margin: 7, formatter: powerLabel, rich: powerRich };
yMain.name = '{t|specific Rate [}{i|Gy}{s|\u22121}{t|]}';
yMain.nameLocation = 'middle';
yMain.nameRotate = 90;
yMain.nameGap = 56;
yMain.nameMoveOverlap = false;
yMain.nameTextStyle = {
  color: INK,
  padding: [0, 22, 0, 0],
  rich: {
    t: { fontFamily: SERIF, fontSize: 21.5, lineHeight: 26, color: INK, verticalAlign: 'bottom' },
    i: { fontFamily: SERIF, fontSize: 21.5, fontStyle: 'italic', lineHeight: 26, color: INK, verticalAlign: 'bottom' },
    s: { fontFamily: SERIF, fontSize: 15, lineHeight: 13, color: INK, verticalAlign: 'top' }
  }
};

// legend glyphs: a short thick bar and a three-dot scatter swatch
const lineIcon = 'path://M0,0M34,6M0,0.5L29,0.5L29,5.5L0,5.5Z';
const dotsIcon = 'path://M0,0M34,6' +
  'M7.6,3.8a1.8,1.8,0,1,0,3.6,0a1.8,1.8,0,1,0,-3.6,0Z' +
  'M12.6,1.9a1.8,1.8,0,1,0,3.6,0a1.8,1.8,0,1,0,-3.6,0Z' +
  'M18.6,4.1a1.8,1.8,0,1,0,3.6,0a1.8,1.8,0,1,0,-3.6,0Z';

// slide annotations: fit each caption to its line length
const measure = document.createElement('canvas').getContext('2d');
function fitFontSize(text, family, width) {
  measure.font = '100px ' + family;
  return 100 * width / measure.measureText(text).width;
}
const captionSSFR = 'sSFR of model galaxies';
const captionObserved = 'Observed relation';
const captionInfall = 'Specific gas infall rate sMIR';
const captionTitle = 'elation @ z = 0';
const sizeSSFR = fitFontSize(captionSSFR, SANS, 339);
const sizeObserved = fitFontSize(captionObserved, SANS, 268);
const sizeInfall = fitFontSize(captionInfall, SANS, 411);
const sizeTitle = fitFontSize(captionTitle, SANS, 241);
measure.font = sizeInfall + 'px ' + SANS;
const infallWidth = measure.measureText(captionInfall).width;

function caption(text, x, y, size, color, z) {
  return {
    type: 'text', z: z || 120, silent: true,
    style: {
      text: text, x: x, y: y, fontSize: size, fontFamily: SANS, fill: color,
      textAlign: 'left', textVerticalAlign: 'middle', align: 'left', verticalAlign: 'middle'
    }
  };
}

const boxStyle = { fill: '#ffff00', stroke: '#ff3300', lineWidth: 2.5 };

const option = {
  backgroundColor: '#ffffff',
  animation: false,
  grid: { left: 97, top: 4, width: 501, height: 388.6, outerBoundsMode: 'none', containLabel: false },
  xAxis: [
    xMain,
    axisPart('x', 'bottom', xMinorTicks, 3, false),
    axisPart('x', 'top', xMajorTicks, 6, true),
    axisPart('x', 'top', xMinorTicks, 3, false)
  ],
  yAxis: [
    yMain,
    axisPart('y', 'left', yMinorTicks, 3, false),
    axisPart('y', 'right', yMajorTicks, 6, true),
    axisPart('y', 'right', yMinorTicks, 3, false)
  ],
  legend: {
    orient: 'vertical', left: 294, top: 22, padding: 0,
    itemWidth: 34, itemHeight: 6, itemGap: 9.3,
    selectedMode: false,
    itemStyle: { borderWidth: 0 },
    textStyle: {
      fontFamily: SERIF, fontSize: 23, lineHeight: 22, color: INK,
      rich: { i: { fontFamily: SERIF, fontSize: 23, lineHeight: 22, fontStyle: 'italic', color: INK } }
    },
    formatter: name => name.charAt(0) === 'β' ? '{i|β}' + name.slice(1) : name,
    data: [
      { name: RELATION_NAME, icon: lineIcon },
      { name: 'sSFR', icon: dotsIcon },
      { name: 'specific gas infall rate', icon: dotsIcon },
      { name: 'sMIR', icon: dotsIcon }
    ]
  },
  series: [
    {
      type: 'scatter', name: 'sSFR', data: toLinear(sSFRPoints),
      symbol: 'circle', symbolSize: 3.8, silent: true,
      itemStyle: { color: '#0000ff', borderWidth: 0 }
    },
    {
      type: 'scatter', name: 'specific gas infall rate', data: toLinear(infallPoints),
      symbol: 'circle', symbolSize: 3.8, silent: true,
      itemStyle: { color: '#008000', borderWidth: 0 }
    },
    {
      type: 'scatter', name: 'sMIR', data: toLinear(sMIRPoints),
      symbol: 'circle', symbolSize: 4.6, silent: true,
      itemStyle: { color: '#000000', borderWidth: 0 }
    },
    {
      type: 'line', name: RELATION_NAME,
      data: relationMass.map((m, i) => [m, relationRate[i]]),
      symbol: 'none', showSymbol: false, silent: true,
      lineStyle: { color: '#ff0000', width: 6 },
      itemStyle: { color: '#ff0000', borderWidth: 0 },
      z: 3
    }
  ],
  graphic: {
    elements: [
      caption(captionSSFR, 224, 168, sizeSSFR, '#0000ff'),
      caption(captionObserved, 137, 233, sizeObserved, '#ff0000'),
      caption(captionInfall, 130, 335, sizeInfall, '#119211'),
      caption('B', 130 + infallWidth + 1, 347, sizeInfall * 0.62, '#119211'),
      { type: 'rect', z: 130, silent: true, shape: { x: -4, y: -4, width: 273, height: 53 }, style: boxStyle },
      caption(captionTitle, 1, 18, sizeTitle, '#000000', 131),
      { type: 'rect', z: 130, silent: true, shape: { x: 577, y: -4, width: 50, height: 53 }, style: boxStyle },
      caption('f', 604, 18, sizeTitle, '#000000', 131)
    ]
  }
};

const chart = echarts.init(document.getElementById('chart'), null, { renderer: 'canvas' });
chart.setOption(option);
</script>
</body>
</html>
